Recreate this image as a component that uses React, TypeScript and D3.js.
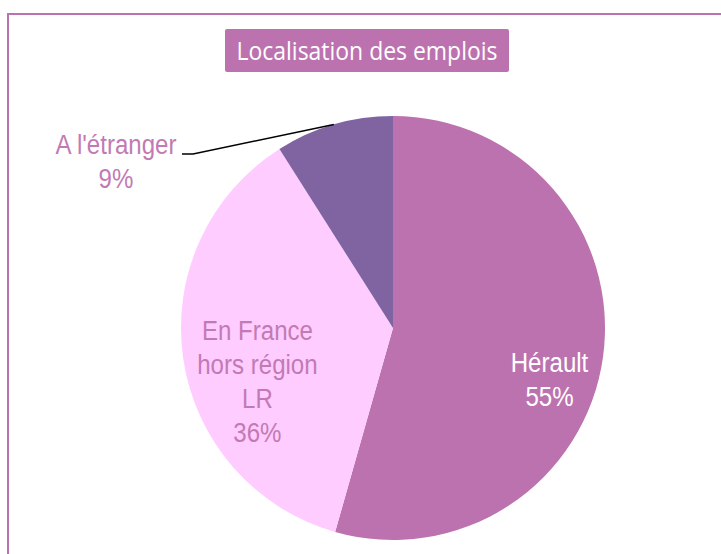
import React from "react";
import * as d3 from "d3";

const categories = ["Hérault", "En France hors région LR", "A l'étranger"];
const values = [54.4, 36.6, 9.0];
const labelLines = [["Hérault", "55%"], ["En France", "hors région", "LR", "36%"], ["A l'étranger", "9%"]];
const colors = ["#BD72B0", "#FFCCFF", "#8064A2"];
const textColors = ["#FFFFFF", "#C27AB5", "#C27AB5"];
const title = "Localisation des emplois";

const W = 721, H = 554;
const cx = 393, cy = 328, R = 212;
const lineGap = 34;

export default function App() {
  const pie = d3.pie<number>().sort(null).value((d) => d);
  const arcs = pie(values);
  const arc = d3.arc<d3.PieArcDatum<number>>().innerRadius(0).outerRadius(R);
  // label centroid radius and nudges (layout)
  const labelR = [158, 137];
  const nudges = [30, 34];

  return (
    <svg width={W} height={H} style={{ position: "absolute", left: 0, top: 0, background: "#fff" }}>
      <rect x={8} y={14} width={760} height={600} fill="#fff" stroke="#BD72B0" strokeWidth={2} />
      <rect x={225} y={29} width={284} height={43} rx={2} fill="#BD72B0" />
      <text x={367} y={60} textAnchor="middle" fill="#fff" fontFamily="'Open Sans', sans-serif" fontSize={26}
        textLength={261} lengthAdjust="spacingAndGlyphs">{title}</text>
      <g transform={`translate(${cx},${cy})`}>
        {arcs.map((a, i) => (
          <path key={categories[i]} d={arc(a) || ""} fill={colors[i]} />
        ))}
      </g>
      {arcs.map((a, i) => {
        const lines = labelLines[i];
        if (i < 2) {
          const mid = (a.startAngle + a.endAngle) / 2;
          const x = cx + labelR[i] * Math.sin(mid);
          const yc = cy - labelR[i] * Math.cos(mid) + nudges[i];
          const y0 = yc - ((lines.length - 1) * lineGap) / 2 + 9;
          return (
            <g key={i} transform={`translate(${x},0) scale(0.86,1)`}>
              {lines.map((l, j) => (
                <text key={j} x={0} y={y0 + j * lineGap} textAnchor="middle" fill={textColors[i]}
                  fontFamily="'Liberation Sans', Arial, sans-serif" fontSize={28}>{l}</text>
              ))}
            </g>
          );
        }
        const mid = (a.startAngle + a.endAngle) / 2;
        const ex = cx + R * Math.sin(mid);
        const ey = cy - R * Math.cos(mid);
        const lx = 182, ly = 154;
        return (
          <g key={i}>
            <polyline points={`${ex},${ey} ${lx + 11},${ly} ${lx},${ly}`} fill="none" stroke="#000" strokeWidth={1.5} />
            <g transform={`translate(${lx - 66},0) scale(0.86,1)`}>
              {lines.map((l, j) => (
                <text key={j} x={0} y={ly + j * lineGap} textAnchor="middle" fill={textColors[i]}
                  fontFamily="'Liberation Sans', Arial, sans-serif" fontSize={28}>{l}</text>
              ))}
            </g>
          </g>
        );
      })}
    </svg>
  );
}
